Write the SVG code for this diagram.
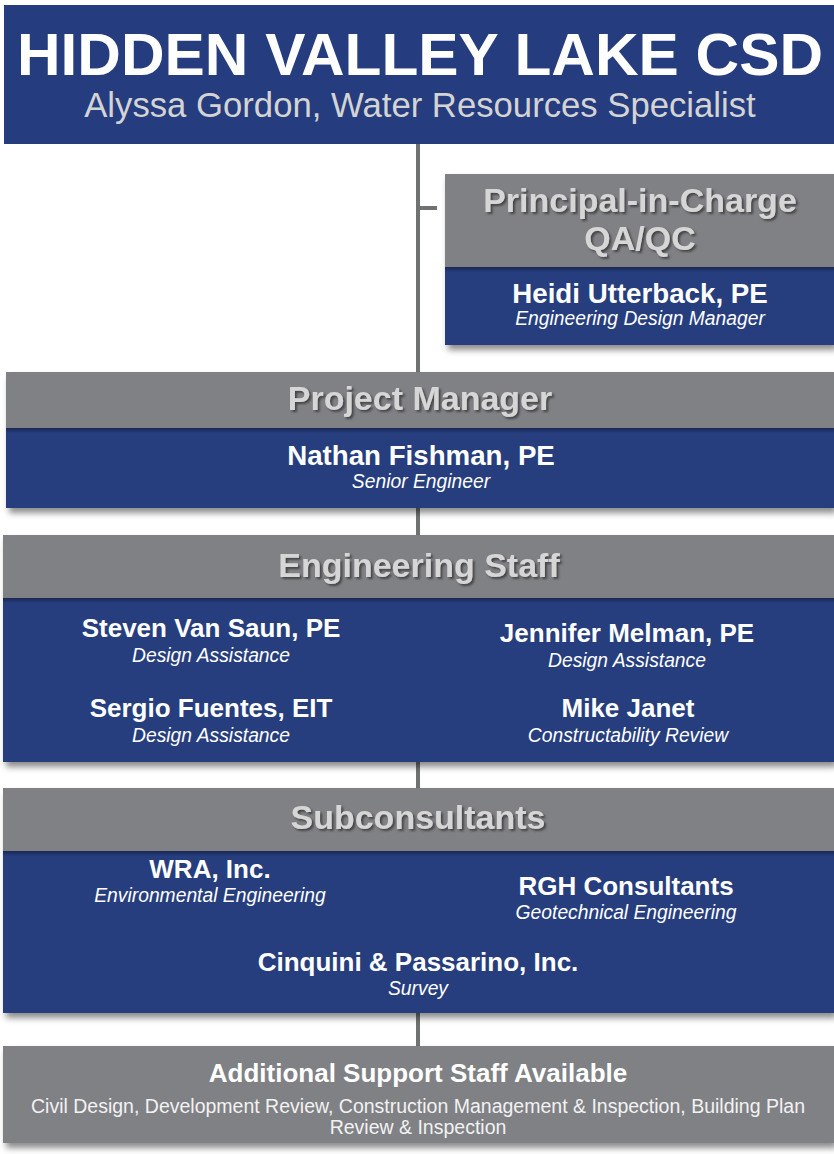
<svg xmlns="http://www.w3.org/2000/svg" width="834" height="1154" viewBox="0 0 834 1154">
<defs>
<filter id="boxShadow" x="-5%" y="-10%" width="115%" height="130%">
<feDropShadow dx="3" dy="5" stdDeviation="3" flood-color="#000" flood-opacity="0.45"/>
</filter>
<filter id="textShadow" x="-10%" y="-30%" width="120%" height="160%">
<feDropShadow dx="2" dy="2" stdDeviation="1" flood-color="#3a3a3a" flood-opacity="0.85"/>
</filter>
<linearGradient id="seam" x1="0" y1="0" x2="0" y2="1">
<stop offset="0" stop-color="#000" stop-opacity="0.35"/>
<stop offset="1" stop-color="#000" stop-opacity="0"/>
</linearGradient>
<style>
.blue{fill:#253c7e}
.gray{fill:#808185}
.seam{fill:url(#seam)}
.head{font-family:"Liberation Sans",Arial,sans-serif;font-weight:bold;font-size:34px;fill:#d6d6d6;text-anchor:middle;filter:url(#textShadow)}
.name{font-family:"Liberation Sans",Arial,sans-serif;font-weight:bold;font-size:26px;fill:#ffffff;text-anchor:middle}
.name28{font-family:"Liberation Sans",Arial,sans-serif;font-weight:bold;font-size:27.7px;fill:#ffffff;text-anchor:middle}
.role{font-family:"Liberation Sans",Arial,sans-serif;font-style:italic;font-size:19.3px;fill:#ffffff;text-anchor:middle}
.note{font-family:"Liberation Sans",Arial,sans-serif;font-size:19.5px;fill:#f2f2f2;text-anchor:middle}
.conn{stroke:#6e7370;stroke-width:4;fill:none}
</style>
</defs>
<rect width="834" height="1154" fill="#ffffff"/>

<g id="connectors">
<line class="conn" x1="418" y1="144" x2="418" y2="1046"/>
<line class="conn" x1="420" y1="208" x2="437" y2="208"/>
</g>

<g id="title">
<rect class="blue" x="4" y="5" width="830" height="139"/>
<text x="420" y="75" font-family="Liberation Sans, Arial, sans-serif" font-weight="bold" font-size="60" fill="#ffffff" text-anchor="middle" textLength="806" lengthAdjust="spacingAndGlyphs">HIDDEN VALLEY LAKE CSD</text>
<text x="420" y="117" font-family="Liberation Sans, Arial, sans-serif" font-size="34.7" fill="#d4d4d4" text-anchor="middle">Alyssa Gordon, Water Resources Specialist</text>
</g>

<g id="principal">
<g filter="url(#boxShadow)">
<rect class="gray" x="445" y="174" width="389" height="93"/>
<rect class="blue" x="445" y="267" width="389" height="78"/>
</g>
<rect class="seam" x="445" y="267" width="389" height="5"/>
<text class="head" x="640" y="212">Principal-in-Charge</text>
<text class="head" x="640" y="250">QA/QC</text>
<text class="name28" x="640" y="303">Heidi Utterback, PE</text>
<text class="role" x="640" y="325">Engineering Design Manager</text>
</g>

<g id="project-manager">
<g filter="url(#boxShadow)">
<rect class="gray" x="6" y="372" width="828" height="56"/>
<rect class="blue" x="6" y="428" width="828" height="80"/>
</g>
<rect class="seam" x="6" y="428" width="828" height="5"/>
<text class="head" x="420" y="410">Project Manager</text>
<text class="name28" x="421" y="465">Nathan Fishman, PE</text>
<text class="role" x="421" y="488">Senior Engineer</text>
</g>

<g id="engineering-staff">
<g filter="url(#boxShadow)">
<rect class="gray" x="3" y="535" width="831" height="63"/>
<rect class="blue" x="3" y="598" width="831" height="164"/>
</g>
<rect class="seam" x="3" y="598" width="831" height="5"/>
<text class="head" x="419" y="577">Engineering Staff</text>
<text class="name" x="211" y="637">Steven Van Saun, PE</text>
<text class="role" x="211" y="662">Design Assistance</text>
<text class="name" x="627" y="642">Jennifer Melman, PE</text>
<text class="role" x="627" y="667">Design Assistance</text>
<text class="name" x="211" y="717">Sergio Fuentes, EIT</text>
<text class="role" x="211" y="742">Design Assistance</text>
<text class="name" x="628" y="717">Mike Janet</text>
<text class="role" x="628" y="742">Constructability Review</text>
</g>

<g id="subconsultants">
<g filter="url(#boxShadow)">
<rect class="gray" x="3" y="788" width="831" height="63"/>
<rect class="blue" x="3" y="851" width="831" height="162"/>
</g>
<rect class="seam" x="3" y="851" width="831" height="5"/>
<text class="head" x="418" y="829">Subconsultants</text>
<text class="name" x="210" y="878">WRA, Inc.</text>
<text class="role" x="210" y="902">Environmental Engineering</text>
<text class="name" x="626" y="895">RGH Consultants</text>
<text class="role" x="626" y="919">Geotechnical Engineering</text>
<text class="name" x="418" y="971">Cinquini &amp; Passarino, Inc.</text>
<text class="role" x="418" y="995">Survey</text>
</g>

<g id="additional-support">
<rect class="gray" x="3" y="1046" width="831" height="97" filter="url(#boxShadow)"/>
<text class="name" x="418" y="1082">Additional Support Staff Available</text>
<text class="note" x="418" y="1113" textLength="774" lengthAdjust="spacingAndGlyphs">Civil Design, Development Review, Construction Management &amp; Inspection, Building Plan</text>
<text class="note" x="418" y="1134">Review &amp; Inspection</text>
</g>
</svg>
